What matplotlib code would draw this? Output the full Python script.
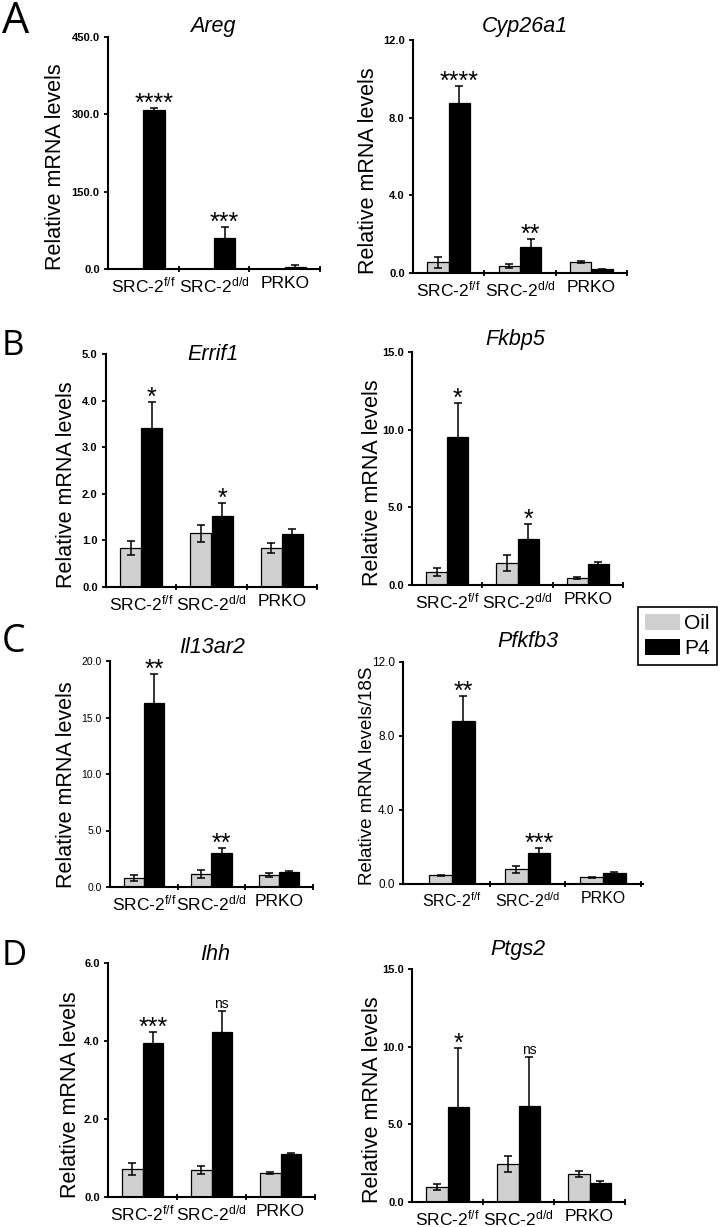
import matplotlib
matplotlib.use("Agg")
import matplotlib.pyplot as plt
from matplotlib.patches import Patch
import numpy as np

plt.rcParams['font.family'] = ['Liberation Sans', 'DejaVu Sans']
plt.rcParams['mathtext.fontset'] = 'custom'
plt.rcParams['mathtext.rm'] = 'Liberation Sans'
plt.rcParams['mathtext.it'] = 'Liberation Sans:italic'

# ---------------- data ----------------
groups = ["SRC-2$^{\\mathregular{f/f}}$", "SRC-2$^{\\mathregular{d/d}}$", "PRKO"]
treatments = ["Oil", "P4"]

genes = ["Areg", "Cyp26a1", "Errif1", "Fkbp5", "Il13ar2", "Pfkfb3", "Ihh", "Ptgs2"]

areg_oil = [0.8, 0.9, 0.7]
areg_oil_err = [0.0, 0.0, 0.0]
areg_p4 = [308.0, 60.0, 4.0]
areg_p4_err = [5.0, 22.0, 4.0]

cyp26a1_oil = [0.55, 0.38, 0.58]
cyp26a1_oil_err = [0.29, 0.10, 0.06]
cyp26a1_p4 = [8.77, 1.35, 0.20]
cyp26a1_p4_err = [0.86, 0.39, 0.02]

errif1_oil = [0.84, 1.15, 0.84]
errif1_oil_err = [0.15, 0.18, 0.11]
errif1_p4 = [3.42, 1.52, 1.13]
errif1_p4_err = [0.56, 0.29, 0.12]

fkbp5_oil = [0.82, 1.40, 0.45]
fkbp5_oil_err = [0.25, 0.51, 0.05]
fkbp5_p4 = [9.56, 2.96, 1.33]
fkbp5_p4_err = [2.14, 0.97, 0.17]

il13ar2_oil = [0.79, 1.17, 1.06]
il13ar2_oil_err = [0.25, 0.33, 0.15]
il13ar2_p4 = [16.29, 3.00, 1.32]
il13ar2_p4_err = [2.60, 0.47, 0.06]

pfkfb3_oil = [0.47, 0.79, 0.36]
pfkfb3_oil_err = [0.03, 0.20, 0.02]
pfkfb3_p4 = [8.81, 1.69, 0.58]
pfkfb3_p4_err = [1.34, 0.27, 0.09]

ihh_oil = [0.72, 0.69, 0.62]
ihh_oil_err = [0.15, 0.11, 0.03]
ihh_p4 = [3.96, 4.24, 1.10]
ihh_p4_err = [0.28, 0.54, 0.04]

ptgs2_oil = [0.96, 2.44, 1.80]
ptgs2_oil_err = [0.20, 0.49, 0.17]
ptgs2_p4 = [6.11, 6.21, 1.22]
ptgs2_p4_err = [3.79, 3.15, 0.11]

areg_sig = ["****", "***", ""]
cyp26a1_sig = ["****", "**", ""]
errif1_sig = ["*", "*", ""]
fkbp5_sig = ["*", "*", ""]
il13ar2_sig = ["**", "**", ""]
pfkfb3_sig = ["**", "***", ""]
ihh_sig = ["***", "ns", ""]
ptgs2_sig = ["*", "ns", ""]

ymax = [450.0, 12.0, 5.0, 15.0, 20.0, 12.0, 6.0, 15.0]
ystep = [150.0, 4.0, 1.0, 5.0, 5.0, 4.0, 2.0, 5.0]

panel_letters = ["A", "B", "C", "D"]

# ---------------- layout (pixels) ----------------
W, H = 721, 1227
fig = plt.figure(figsize=(W / 100, H / 100), dpi=100)

# left, right, top(ymax), bottom(0)
rects = [
    (108, 320, 37, 269),
    (413, 627, 40, 273),
    (106, 317, 354, 587),
    (412, 623, 352, 585),
    (110, 313, 661, 887),
    (403, 643, 662, 884),
    (108, 315, 963, 1197),
    (412, 625, 969, 1202),
]
xlims = [(-0.5, 2.5)] * 5 + [(-0.65, 2.53)] + [(-0.5, 2.5)] * 2
ylabel_x = [56, 368, 67, 373, 66, 368, 70, 372]
title_pos = [(213, 32), (525, 32), (213, 360), (515, 345), (212, 653), (528, 647), (215, 960), (518, 955)]
tick_style = [(8, 'bold'), (8, 'bold'), (8, 'bold'), (8, 'bold'), (7.5, 'normal'),
              (8.5, 'normal'), (8, 'bold'), (8, 'bold')]

data = [
    (areg_oil, areg_oil_err, areg_p4, areg_p4_err, areg_sig),
    (cyp26a1_oil, cyp26a1_oil_err, cyp26a1_p4, cyp26a1_p4_err, cyp26a1_sig),
    (errif1_oil, errif1_oil_err, errif1_p4, errif1_p4_err, errif1_sig),
    (fkbp5_oil, fkbp5_oil_err, fkbp5_p4, fkbp5_p4_err, fkbp5_sig),
    (il13ar2_oil, il13ar2_oil_err, il13ar2_p4, il13ar2_p4_err, il13ar2_sig),
    (pfkfb3_oil, pfkfb3_oil_err, pfkfb3_p4, pfkfb3_p4_err, pfkfb3_sig),
    (ihh_oil, ihh_oil_err, ihh_p4, ihh_p4_err, ihh_sig),
    (ptgs2_oil, ptgs2_oil_err, ptgs2_p4, ptgs2_p4_err, ptgs2_sig),
]

oil_color = '#d0d0d0'
bw = 0.3
x = np.arange(len(groups))

for i, (gene, rect, (oil, oil_e, p4, p4_e, sig)) in enumerate(zip(genes, rects, data)):
    L, R, T, B = rect
    ax = fig.add_axes([L / W, 1 - B / H, (R - L) / W, (B - T) / H])
    special = (gene == "Pfkfb3")
    ek = dict(ecolor='black', elinewidth=1.1, capsize=3.2, capthick=1.1)
    oil_err_arg = oil_e if max(oil_e) > 0 else None
    ax.bar(x - bw / 2, oil, bw, yerr=oil_err_arg, color=oil_color, edgecolor='black',
           linewidth=0.9, error_kw=ek, zorder=2)
    ax.bar(x + bw / 2, p4, bw, yerr=p4_e, color='black', edgecolor='black',
           linewidth=0.9, error_kw=ek, zorder=2)
    ax.set_xlim(*xlims[i])
    ax.set_ylim(0, ymax[i])
    yt = np.arange(0, ymax[i] + ystep[i] / 2, ystep[i])
    ax.set_yticks(yt)
    fs_t, fw_t = tick_style[i]
    ax.set_yticklabels(["%.1f" % v for v in yt], fontsize=fs_t, fontweight=fw_t)
    ax.set_xticks(x)
    ax.set_xticklabels(groups, fontsize=11.5 if special else 12.5)
    ax.set_xticks([0.5, 1.5, 2.5], minor=True)
    ax.tick_params(axis='x', which='major', length=0, pad=5)
    ax.tick_params(axis='x', which='minor', length=5, width=1.3, direction='inout')
    ax.tick_params(axis='y', length=3, width=1.3, pad=3)
    for s in ['top', 'right']:
        ax.spines[s].set_visible(False)
    for s in ['left', 'bottom']:
        ax.spines[s].set_linewidth(1.5)
    ax.patch.set_alpha(0)

    # significance labels above P4 error bars
    for j in range(len(groups)):
        if not sig[j]:
            continue
        top = p4[j] + p4_e[j]
        if sig[j] == "ns":
            ax.annotate(sig[j], (x[j] + bw / 2, top), xytext=(0, 5), textcoords='offset points',
                        ha='center', va='center', fontsize=10)
        else:
            ax.annotate(sig[j], (x[j] + bw / 2, top), xytext=(0, 3), textcoords='offset points',
                        ha='center', va='center', fontsize=18)

    # y label
    lab = "Relative mRNA levels/18S" if special else "Relative mRNA levels"
    fig.text(ylabel_x[i] / W, 1 - (B + 1) / H, lab, rotation=90, ha='center', va='bottom',
             fontsize=13.5 if special else 15.5)
    # title
    tx, ty = title_pos[i]
    fig.text(tx / W, 1 - ty / H, gene, ha='center', va='baseline', fontsize=15.5, style='italic')

# panel letters
letter_pos = [(2, 33, 31), (2, 355, 25), (2, 652, 27), (2, 965, 25)]
for letter, (lx, ly, fs) in zip(panel_letters, letter_pos):
    fig.text(lx / W, 1 - ly / H, letter, ha='left', va='baseline', fontsize=fs,
             family=['Open Sans', 'DejaVu Sans'], fontweight='normal')

# legend
handles = [Patch(facecolor=oil_color, edgecolor='none'), Patch(facecolor='black', edgecolor='none')]
leg = fig.legend(handles, treatments, loc='upper left', bbox_to_anchor=(638 / W, 1 - 607 / H),
                 fontsize=15, handlelength=1.65, handleheight=0.8, handletextpad=0.2,
                 borderpad=0.35, labelspacing=0.25, borderaxespad=0, fancybox=False,
                 framealpha=1, edgecolor='black')
leg.get_frame().set_linewidth(1.2)

fig.savefig("out.png", dpi=100)
